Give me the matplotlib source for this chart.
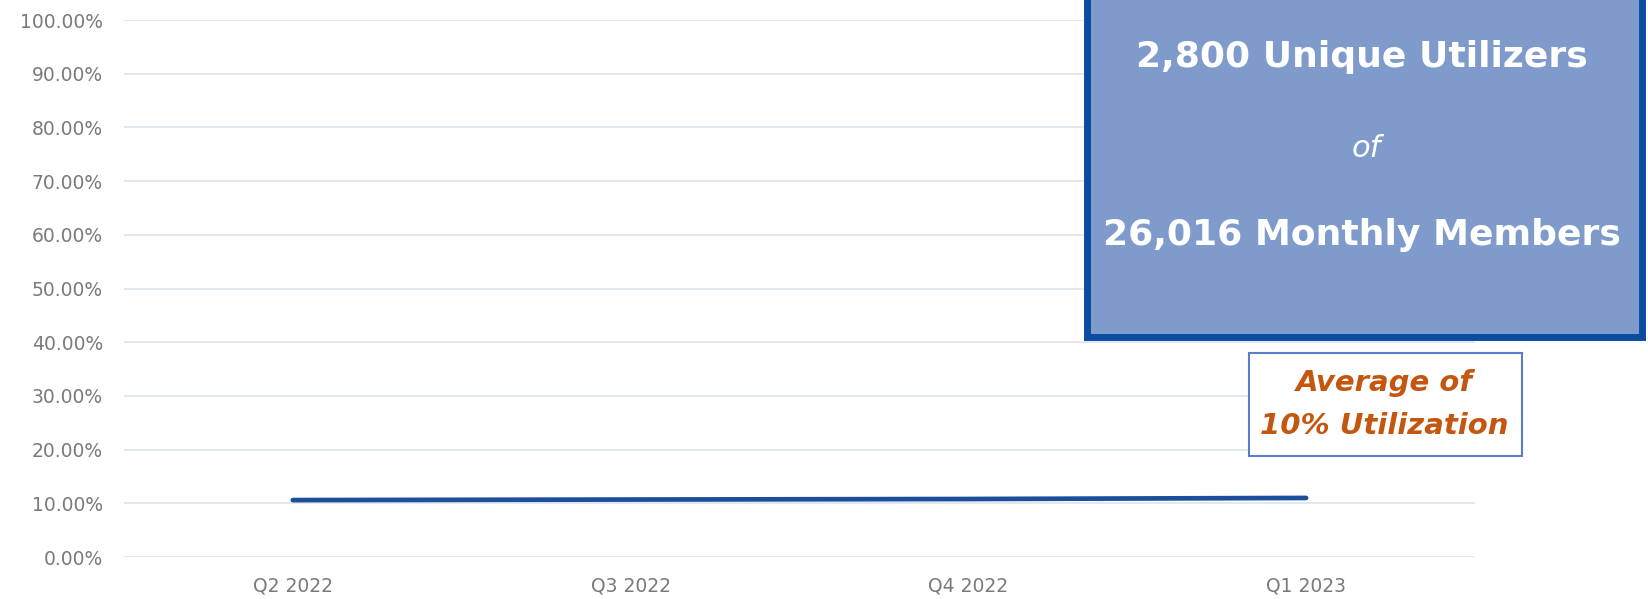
import matplotlib
matplotlib.use('Agg')
import matplotlib.pyplot as plt
from matplotlib.patches import Rectangle

# Quarterly utilization rate (% of monthly members)
quarters = ['Q2 2022', 'Q3 2022', 'Q4 2022', 'Q1 2023']
utilization = [10.6, 10.7, 10.8, 11.0]

y_ticks = [0, 10, 20, 30, 40, 50, 60, 70, 80, 90, 100]

headline = '2,800 Unique Utilizers'
joiner = 'of'
members_line = '26,016 Monthly Members'
callout_lines = ['Average of', '10% Utilization']

LINE_BLUE = '#1b4f9c'
GRID = '#e3e7ee'
LABEL_GRAY = '#7a7a7a'
BOX_FILL = '#7f9bcc'
BOX_EDGE = '#0b4ca2'
ORANGE = '#c5560f'

W, H = 1648, 599
fig = plt.figure(figsize=(W / 100, H / 100), dpi=100)
ax = fig.add_axes([0.0752, 0.0701, 0.8198, 0.8965])


def px(x, y):
    # pixel position from the top-left corner -> figure fraction
    return x / W, 1 - y / H


x = list(range(len(quarters)))
ax.plot(x, utilization, color=LINE_BLUE, linewidth=3.4, solid_capstyle='round', zorder=3)

ax.set_xlim(-0.5, len(quarters) - 0.5)
ax.set_ylim(0, 100)
ax.set_yticks(y_ticks)
ax.set_yticklabels([f'{v:.2f}%' for v in y_ticks])
ax.set_xticks(x)
ax.set_xticklabels(quarters)

ax.grid(axis='y', color=GRID, linewidth=1.4)
ax.set_axisbelow(True)
for side in ['top', 'right', 'left', 'bottom']:
    ax.spines[side].set_visible(False)
ax.tick_params(axis='both', length=0, colors=LABEL_GRAY, labelsize=13.5)
ax.tick_params(axis='y', pad=15)
ax.tick_params(axis='x', pad=14)
for lbl in ax.get_xticklabels() + ax.get_yticklabels():
    lbl.set_fontfamily('DejaVu Sans')

# summary box, running off the top edge
x0, y0 = px(1086.5, 336.5)
fig.patches.append(Rectangle((x0, y0), 555 / W, 360 / H,
                             transform=fig.transFigure, facecolor=BOX_FILL,
                             edgecolor=BOX_EDGE, linewidth=5, clip_on=False))
cx = 1362
fig.text(*px(cx, 67), headline, ha='center', va='baseline',
         color='white', fontsize=26, fontweight='bold', family='DejaVu Sans')
fig.text(*px(1366, 157), joiner, ha='center', va='baseline',
         color='white', fontsize=22, style='italic', family='DejaVu Sans')
fig.text(*px(cx, 245), members_line, ha='center', va='baseline',
         color='white', fontsize=26, fontweight='bold', family='DejaVu Sans')

# callout box
bx, by = px(1249, 456)
fig.patches.append(Rectangle((bx, by), 273 / W, 103 / H,
                             transform=fig.transFigure, facecolor='white',
                             edgecolor='#5b7cc8', linewidth=1.5))
for line, base in zip(callout_lines, [391, 434]):
    fig.text(*px(1384, base), line, ha='center', va='baseline',
             color=ORANGE, fontsize=21, fontweight='bold', style='italic',
             family='DejaVu Sans')

fig.savefig('out.png', dpi=100)
